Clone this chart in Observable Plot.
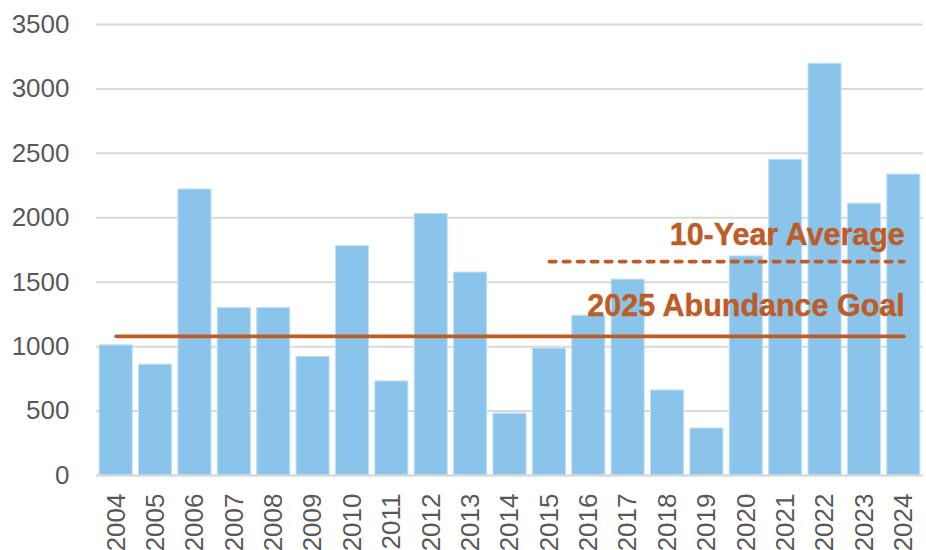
<!DOCTYPE html>
<html><head><meta charset="utf-8">
<script src="https://cdn.jsdelivr.net/npm/d3@7"></script>
<script src="https://cdn.jsdelivr.net/npm/@observablehq/plot@0.6"></script>
<style>html,body{margin:0;padding:0;background:#fff;overflow:hidden}</style>
</head><body><div id="chart"></div>
<script>
const years = ["2004","2005","2006","2007","2008","2009","2010","2011","2012","2013","2014","2015","2016","2017","2018","2019","2020","2021","2022","2023","2024"];
const counts = [1010, 860, 2220, 1300, 1300, 920, 1780, 730, 2030, 1575, 480, 985, 1240, 1520, 660, 365, 1700, 2450, 3195, 2110, 2335];
const yTicks = [0, 500, 1000, 1500, 2000, 2500, 3000, 3500];
const goalValue = 1080;
const goalLabel = "2025 Abundance Goal";
const goalSpan = ["2004", "2024"];
const averageValue = 1660;
const averageLabel = "10-Year Average";
const averageSpan = ["2015", "2024"];

const accent = "#BF5B25";
const data = years.map((year, i) => ({year, count: counts[i]}));
const goalLine = goalSpan.map(year => ({year, v: goalValue}));
const avgLine = averageSpan.map(year => ({year, v: averageValue}));

const chart = Plot.plot({
  width: 926, height: 550,
  marginLeft: 96, marginRight: 3, marginTop: 24, marginBottom: 75,
  style: {fontFamily: "'Liberation Sans', Arial, sans-serif", fontSize: "26px", color: "#595959", background: "#fff", overflow: "visible"},
  x: {domain: years, paddingInner: 0.16, paddingOuter: 0.08, round: false},
  y: {domain: [0, 3500]},
  marks: [
    Plot.gridY(yTicks, {stroke: "#d9d9d9", strokeOpacity: 1, strokeWidth: 2}),
    Plot.barY(data, {x: "year", y: "count", fill: "#8AC4EA", stroke: "#BFE0F5", strokeWidth: 1}),
    Plot.ruleY([0], {stroke: "#d9d9d9", strokeWidth: 2}),
    Plot.axisY(yTicks, {tickSize: 0, tickPadding: 27, label: null, fill: "#595959", tickFormat: d => String(d)}),
    Plot.axisX({tickSize: 0, tickPadding: 18, tickRotate: -90, label: null, fill: "#595959"}),
    Plot.line(goalLine, {x: "year", y: "v", stroke: accent, strokeWidth: 3.8, strokeLinecap: "round"}),
    Plot.line(avgLine, {x: "year", y: "v", stroke: accent, strokeWidth: 3.6, strokeLinecap: "round", strokeDasharray: "6.5,7.5"}),
    Plot.text([{year: goalSpan[1], v: goalValue, t: goalLabel}], {x: "year", y: "v", text: "t", textAnchor: "end", lineAnchor: "bottom", dy: -20, dx: 1, fontWeight: "bold", fontSize: 30.5, fill: accent, stroke: accent, strokeWidth: 0.4}),
    Plot.text([{year: averageSpan[1], v: averageValue, t: averageLabel}], {x: "year", y: "v", text: "t", textAnchor: "end", lineAnchor: "bottom", dy: -17, dx: 1, fontWeight: "bold", fontSize: 30.5, fill: accent, stroke: accent, strokeWidth: 0.4})
  ]
});
document.getElementById("chart").appendChild(chart);
</script>
</body></html>
